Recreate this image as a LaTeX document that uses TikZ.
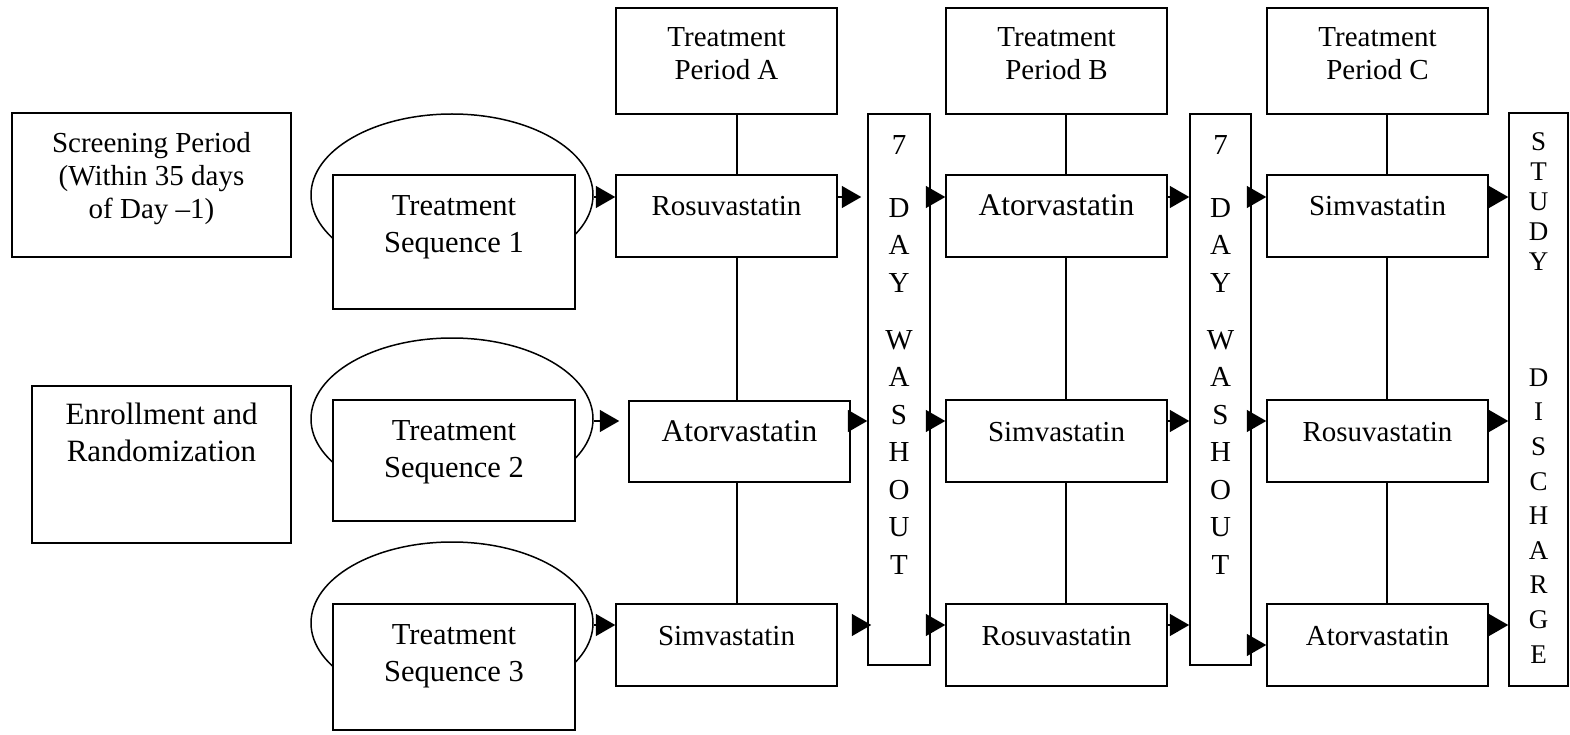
\documentclass[tikz,border=0pt]{standalone}
\usepackage{fontspec}
\setmainfont{Liberation Serif}
\usetikzlibrary{arrows.meta,shapes.geometric,calc}
\begin{document}
\begin{tikzpicture}[x=1pt,y=-1pt,
  box/.style={draw, line width=1.5pt, fill=white, inner sep=0pt},
  one/.style={text height=12pt, text depth=12pt},
  fA/.style={font=\fontsize{29}{33}\selectfont},
  fB/.style={font=\fontsize{31.5}{37}\selectfont},
  fS/.style={font=\fontsize{30.5}{37}\selectfont},
  txt/.style={align=center, inner sep=0pt, anchor=north},
  arr/.style={line width=1.5pt, -{Triangle[length=19.5pt,width=22pt]}},
  ln/.style={line width=1.5pt},
  loopell/.style={draw, ellipse, line width=1.5pt, inner sep=0pt, minimum width=282pt, minimum height=162pt},
  rowbox/.style={box, one, minimum width=221pt, minimum height=82pt},
  washbox/.style={box, minimum height=551pt}
]
\useasboundingbox (0,0) rectangle (1570,735);
\fill[white] (0,0) rectangle (1570,735);

% loops behind the sequence boxes
\node[loopell] (e1) at (452,195) {};
\node[loopell] (e2) at (452,419) {};
\node[loopell] (e3) at (452,623) {};

% left column
\node[box, minimum width=279pt, minimum height=144pt] (scr) at (151.5,185) {};
\node[txt, fA] (scrt) at ($(scr.north)+(0,20)$) {Screening Period\\(Within 35 days\\of Day –1)};
\node[box, minimum width=259pt, minimum height=157pt] (enr) at (161.5,464.5) {};
\node[txt, font=\fontsize{31}{37}\selectfont] (enrt) at ($(enr.north)+(0,18)$) {Enrollment and\\Randomization};

% sequence boxes
\node[box, minimum width=242pt, minimum height=134pt] (s1) at (454,242) {};
\node[txt, fS] (s1t) at ($(s1.north)+(0,21)$) {Treatment\\Sequence 1};
\node[box, minimum width=242pt, minimum height=121pt] (s2) at (454,460.5) {};
\node[txt, fS] (s2t) at ($(s2.north)+(0,21)$) {Treatment\\Sequence 2};
\node[box, minimum width=242pt, minimum height=126pt] (s3) at (454,667) {};
\node[txt, fS] (s3t) at ($(s3.north)+(0,21)$) {Treatment\\Sequence 3};

% treatment period headers
\node[box, minimum width=221pt, minimum height=106pt] (tpa) at (726.5,61) {};
\node[txt, fA] (tpat) at ($(tpa.north)+(0,20)$) {Treatment\\Period A};
\node[box, minimum width=221pt, minimum height=106pt] (tpb) at (1056.5,61) {};
\node[txt, fA] (tpbt) at ($(tpb.north)+(0,20)$) {Treatment\\Period B};
\node[box, minimum width=221pt, minimum height=106pt] (tpc) at (1377.5,61) {};
\node[txt, fA] (tpct) at ($(tpc.north)+(0,20)$) {Treatment\\Period C};

% drug boxes
\node[rowbox, fA] (a1) at (726.5,216) {Rosuvastatin};
\node[rowbox, fB] (b1) at (1056.5,216) {Atorvastatin};
\node[rowbox, fA] (c1) at (1377.5,216) {Simvastatin};
\node[rowbox, fB, minimum height=81pt] (a2) at (739.5,441.5) {Atorvastatin};
\node[rowbox, fA] (b2) at (1056.5,441) {Simvastatin};
\node[rowbox, fA] (c2) at (1377.5,441) {Rosuvastatin};
\node[rowbox, fA] (a3) at (726.5,645) {Simvastatin};
\node[rowbox, fA] (b3) at (1056.5,645) {Rosuvastatin};
\node[rowbox, fA] (c3) at (1377.5,645) {Atorvastatin};

% washout and discharge
\node[washbox, minimum width=62pt] (w1) at (899,389.5) {};
\node[txt, font=\fontsize{29}{37.5}\selectfont] (w1t) at ($(w1.north)+(0,22)$) {7\\[25.5pt]D\\A\\Y\\[19.5pt]W\\A\\S\\H\\O\\U\\T};
\node[washbox, minimum width=61pt] (w2) at (1220.5,389.5) {};
\node[txt, font=\fontsize{29}{37.5}\selectfont] (w2t) at ($(w2.north)+(0,22)$) {7\\[25.5pt]D\\A\\Y\\[19.5pt]W\\A\\S\\H\\O\\U\\T};
\node[box, minimum width=59pt, minimum height=573pt] (dis) at (1538.5,399.5) {};
\node[txt, font=\fontsize{27}{30}\selectfont] (dist) at ($(dis.north)+(0,20)$) {S\\T\\U\\D\\Y\\[86pt]D\\[4.6pt]I\\[4.6pt]S\\[4.6pt]C\\[4.6pt]H\\[4.6pt]A\\[4.6pt]R\\[4.6pt]G\\[4.6pt]E};

% column connectors
\coordinate (ca) at (737,0);
\coordinate (cb) at (1066,0);
\coordinate (cc) at (1387,0);
\draw[ln] (tpa.south -| ca) -- (a1.north -| ca);
\draw[ln] (a1.south -| ca) -- (a2.north -| ca);
\draw[ln] (a2.south -| ca) -- (a3.north -| ca);
\draw[ln] (tpb.south -| cb) -- (b1.north -| cb);
\draw[ln] (b1.south -| cb) -- (b2.north -| cb);
\draw[ln] (b2.south -| cb) -- (b3.north -| cb);
\draw[ln] (tpc.south -| cc) -- (c1.north -| cc);
\draw[ln] (c1.south -| cc) -- (c2.north -| cc);
\draw[ln] (c2.south -| cc) -- (c3.north -| cc);

% arrows
\coordinate (r1) at (0,197);
\coordinate (r2) at (0,421);
\coordinate (r3) at (0,625);
\coordinate (r3b) at (0,645);
\draw[arr] (e1.east |- r1) -- (a1.west |- r1);
\draw[arr] (a1.east |- r1) -- ($(w1.west |- r1)+(-6,0)$);
\draw[arr] (w1.east |- r1) -- (b1.west |- r1);
\draw[arr] (b1.east |- r1) -- (w2.west |- r1);
\draw[arr] (w2.east |- r1) -- (c1.west |- r1);
\draw[arr] (c1.east |- r1) -- (dis.west |- r1);

\draw[arr] (e2.east |- r2) -- ($(a2.west |- r2)+(-9,0)$);
\draw[arr] (a2.east |- r2) -- (w1.west |- r2);
\draw[arr] (w1.east |- r2) -- (b2.west |- r2);
\draw[arr] (b2.east |- r2) -- (w2.west |- r2);
\draw[arr] (w2.east |- r2) -- (c2.west |- r2);
\draw[arr] (c2.east |- r2) -- (dis.west |- r2);

\draw[arr] (e3.east |- r3) -- (a3.west |- r3);
\draw[arr] ($(a3.east |- r3)+(14,0)$) -- ($(w1.west |- r3)+(4,0)$);
\draw[arr] (w1.east |- r3) -- (b3.west |- r3);
\draw[arr] (b3.east |- r3) -- (w2.west |- r3);
\draw[arr] (w2.east |- r3b) -- (c3.west |- r3b);
\draw[arr] (c3.east |- r3) -- (dis.west |- r3);
\end{tikzpicture}
\end{document}
